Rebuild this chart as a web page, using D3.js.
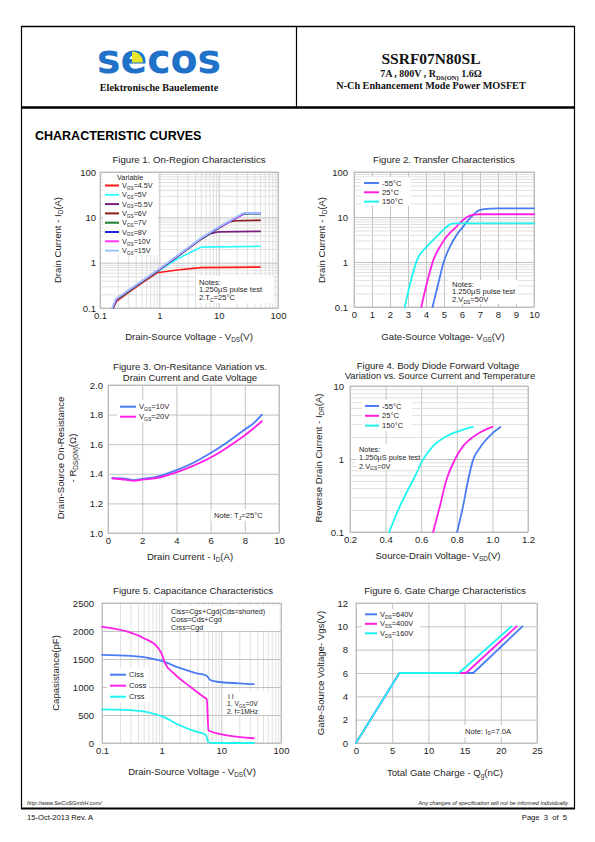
<!DOCTYPE html>
<html><head><meta charset="utf-8">
<script src="https://cdn.jsdelivr.net/npm/d3@7/dist/d3.min.js"></script>
<style>
html,body{margin:0;padding:0;background:#fff;}
svg{display:block;}
</style></head>
<body>
<svg id="page" width="595" height="842" xmlns="http://www.w3.org/2000/svg"></svg>
<script>
// ================= DATA =================
// Figure 1: On-Region Characteristics  [VDS (V), ID (A)]
const fig1Names = ["4.5V","5V","5.5V","6V","7V","8V","10V","15V"];
const fig1Vgs4_5 = [[0.165,0.1],[0.19,0.14],[0.3,0.22],[0.5,0.35],[0.92,0.6],[2,0.69],[5,0.78],[50,0.8]];
const fig1Vgs5   = [[0.165,0.1],[0.19,0.15],[0.5,0.37],[1,0.68],[2,1.2],[5,2.2],[50,2.3]];
const fig1Vgs5_5 = [[0.165,0.1],[0.19,0.15],[0.2,0.16],[1,0.7],[5,3.3],[7,4.3],[10,4.8],[50,4.9]];
const fig1Vgs6   = [[0.165,0.1],[0.19,0.15],[0.2,0.16],[1,0.7],[5,3.3],[10,5.8],[15,8.0],[20,8.4],[50,8.6]];
const fig1Vgs7   = [[0.165,0.1],[0.19,0.15],[0.2,0.16],[1,0.7],[5,3.3],[10,5.8],[25,11.6],[30,12.0],[50,12.0]];
const fig1Vgs8   = [[0.163,0.1],[0.19,0.155],[0.2,0.165],[1,0.71],[5,3.35],[10,5.9],[27,12.2],[50,12.2]];
const fig1Vgs10  = [[0.162,0.1],[0.19,0.157],[0.2,0.167],[1,0.72],[5,3.4],[10,6.0],[27,12.3],[50,12.3]];
const fig1Vgs15  = [[0.16,0.1],[0.185,0.16],[0.2,0.17],[1,0.73],[5,3.45],[10,6.1],[26,12.4],[50,12.4]];
const fig1XTicks = [0.1,1,10,100];
const fig1YTicks = [0.1,1,10,100];

// Figure 2: Transfer Characteristics [VGS (V), ID (A)]
const fig2Names = ["-55°C","25°C","150°C"];
const fig2Tm55  = [[4.36,0.1],[4.69,0.34],[4.96,0.93],[5.33,2.2],[5.7,4.0],[6.06,6.1],[6.43,9.3],[6.98,14.3],[7.6,15.4],[8,15.6],[10,15.6]];
const fig2T25   = [[3.74,0.1],[4.05,0.34],[4.41,1.1],[4.78,2.2],[5.15,3.7],[5.6,5.6],[6.06,8.6],[6.43,10.7],[6.7,11.3],[7,11.5],[10,11.5]];
const fig2T150  = [[2.82,0.1],[3.13,0.34],[3.5,1.1],[4.05,2.2],[4.6,3.7],[5.05,5.6],[5.4,7.0],[5.7,7.2],[10,7.2]];
const fig2XTicks = [0,1,2,3,4,5,6,7,8,9,10];
const fig2YTicks = [0.1,1,10,100];

// Figure 3: On-Resistance vs Drain Current [ID (A), RDS(on) (ohm)]
const fig3Names = ["10V","20V"];
const fig3Vgs10 = [[0.25,1.37],[1,1.368],[1.5,1.357],[2,1.365],[3,1.385],[4,1.425],[5,1.475],[6,1.54],[7,1.615],[8,1.70],[8.5,1.74],[9,1.80]];
const fig3Vgs20 = [[0.25,1.37],[1,1.36],[1.5,1.352],[2,1.36],[3,1.375],[4,1.41],[5,1.455],[6,1.51],[7,1.58],[8,1.66],[9,1.755]];
const fig3XTicks = [0,2,4,6,8,10];
const fig3YTicks = [1.0,1.2,1.4,1.6,1.8,2.0];

// Figure 4: Body Diode Forward Voltage [VSD (V), IDR (A)]
const fig4Names = ["-55°C","25°C","150°C"];
const fig4Tm55 = [[0.802,0.1],[0.835,0.225],[0.864,0.52],[0.892,0.98],[0.929,1.42],[0.966,1.85],[1.0,2.25],[1.045,2.75]];
const fig4T25  = [[0.667,0.1],[0.705,0.225],[0.742,0.52],[0.789,0.98],[0.835,1.5],[0.873,1.85],[0.93,2.3],[1.0,2.75]];
const fig4T150 = [[0.42,0.1],[0.48,0.225],[0.565,0.58],[0.61,0.98],[0.667,1.5],[0.742,2.05],[0.82,2.45],[0.89,2.75]];
const fig4XTicks = [0.2,0.4,0.6,0.8,1.0,1.2];
const fig4YTicks = [0.1,1,10];

// Figure 5: Capacitance [VDS (V), C (pF)]
const fig5Names = ["Ciss","Coss","Crss"];
const fig5Ciss = [[0.1,1575],[0.3,1555],[0.65,1513],[1,1465],[2,1340],[3.9,1244],[5.3,1214],[5.8,1190],[6.5,1124],[8.5,1094],[20,1065],[35,1050]];
const fig5Coss = [[0.1,2075],[0.26,1992],[0.5,1872],[0.88,1693],[1,1590],[1.14,1423],[1.6,1244],[3,1005],[5,825],[5.7,783],[6.1,227],[6.6,209],[12.4,138],[35,85]];
const fig5Crss = [[0.1,600],[0.3,586],[0.65,538],[1.07,466],[2,317],[3.9,197],[5.3,155],[5.7,108],[6.0,18],[7.4,0],[35,0]];
const fig5XTicks = [0.1,1,10,100];
const fig5YTicks = [0,500,1000,1500,2000,2500];

// Figure 6: Gate Charge [Qg (nC), VGS (V)]
const fig6Names = ["640V","400V","160V"];
const fig6V640 = [[0,0],[6,6],[16.2,6],[23,10]];
const fig6V400 = [[0,0],[6,6],[15.2,6],[22.2,10]];
const fig6V160 = [[0,0],[6,6],[14.2,6],[21.5,10]];
const fig6XTicks = [0,5,10,15,20,25];
const fig6YTicks = [0,2,4,6,8,10,12];

// ================= DRAWING =================
const SANS = '"Liberation Sans", Arial, Helvetica, sans-serif';
const SERIF = '"Liberation Serif", "Times New Roman", serif';
const MAJ = '#b4b4b4', MIN = '#d8d8d8';
const BLUE = '#4a7cf3', MAG = '#ff1fe6', CYAN = '#1ff4f0';
const svg = d3.select('#page');
svg.append('rect').attr('width',595).attr('height',842).attr('fill','#fff');

function rich(g, x, y, parts, opt){
  const t = g.append('text').attr('x',x).attr('y',y)
    .attr('font-size',opt.size).attr('text-anchor',opt.anchor||'start')
    .attr('fill',opt.fill||'#1e1e1e').attr('font-family',opt.family||SANS);
  if(opt.weight) t.attr('font-weight',opt.weight);
  if(opt.style) t.attr('font-style',opt.style);
  if(opt.rotate) t.attr('transform',`rotate(-90,${x},${y})`);
  let shifted = 0;
  parts.forEach(p=>{
    if(typeof p === 'string'){
      const s = t.append('tspan').text(p);
      if(shifted){ s.attr('dy',-shifted); shifted = 0; }
    } else {
      const d = opt.size*0.25;
      const s = t.append('tspan').text(p.sub).attr('font-size',opt.size*0.66);
      if(!shifted){ s.attr('dy',d); shifted = d; }
    }
  });
  return t;
}

function logGrid(lo, hi){
  const out = [];
  for(let e=Math.round(Math.log10(lo)); e<Math.round(Math.log10(hi)); e++){
    for(let k=1;k<10;k++) out.push(k*Math.pow(10,e));
  }
  out.push(hi);
  return out;
}
function isDecade(v){ const l=Math.log10(v); return Math.abs(l-Math.round(l))<1e-9; }

function panel(xs, ys, xGrid, yGrid, xMajor, yMajor, xTicks, xFmt, yTicks, yFmt, yPad){
  const g = svg.append('g');
  const [x0,x1] = xs.range(), [yb,yt] = ys.range();
  const h = yb-yt, w = x1-x0;
  const gx = g.append('g').attr('transform',`translate(0,${yb})`)
    .call(d3.axisBottom(xs).tickValues(xGrid).tickSize(-h).tickFormat(''));
  gx.select('.domain').remove();
  gx.selectAll('.tick line').attr('stroke',d=>xMajor(d)?MAJ:MIN).attr('stroke-width',0.8);
  const gy = g.append('g').attr('transform',`translate(${x0},0)`)
    .call(d3.axisLeft(ys).tickValues(yGrid).tickSize(-w).tickFormat(''));
  gy.select('.domain').remove();
  gy.selectAll('.tick line').attr('stroke',d=>yMajor(d)?MAJ:MIN).attr('stroke-width',0.8);
  g.append('rect').attr('x',x0).attr('y',yt).attr('width',w).attr('height',h)
    .attr('fill','none').attr('stroke',MAJ).attr('stroke-width',0.8);
  const lx = g.append('g').attr('transform',`translate(0,${yb})`)
    .call(d3.axisBottom(xs).tickValues(xTicks).tickFormat(xFmt).tickSize(0).tickPadding(4.5));
  lx.select('.domain').remove();
  lx.selectAll('text').attr('font-size',9.5).attr('font-family',SANS).attr('fill','#1e1e1e');
  const ly = g.append('g').attr('transform',`translate(${x0},0)`)
    .call(d3.axisLeft(ys).tickValues(yTicks).tickFormat(yFmt).tickSize(0).tickPadding(yPad));
  ly.select('.domain').remove();
  ly.selectAll('text').attr('font-size',9.5).attr('font-family',SANS).attr('fill','#1e1e1e');
  return g;
}

function drawLines(g, xs, ys, series, colors, curve, width){
  const line = d3.line().x(d=>xs(d[0])).y(d=>ys(d[1])).curve(curve||d3.curveLinear);
  series.forEach((s,i)=>{
    g.append('path').datum(s).attr('d',line).attr('fill','none')
      .attr('stroke',colors[i]).attr('stroke-width',width||1.7)
      .attr('stroke-linejoin','round').attr('stroke-linecap','round');
  });
}

function legend(g, x, y0, dy, names, colors, prefix, sub, size, lineLen){
  names.forEach((n,i)=>{
    const y = y0 + i*dy;
    g.append('line').attr('x1',x).attr('x2',x+lineLen).attr('y1',y).attr('y2',y)
      .attr('stroke',colors[i]).attr('stroke-width',2);
    const parts = prefix ? [prefix, {sub:sub}, '='+n] : [n];
    rich(g, x+lineLen+3, y+size*0.35, parts, {size:size});
  });
}

function whiteBox(g,x,y,w,h){ g.append('rect').attr('x',x).attr('y',y).attr('width',w).attr('height',h).attr('fill','#fff'); }

// ---------- Page frame & header ----------
const frame = svg.append('g');
frame.append('line').attr('x1',21).attr('x2',575).attr('y1',26.5).attr('y2',26.5).attr('stroke','#000').attr('stroke-width',1.5);
frame.append('line').attr('x1',21.5).attr('x2',21.5).attr('y1',26).attr('y2',809).attr('stroke','#000').attr('stroke-width',1.2);
frame.append('line').attr('x1',574.5).attr('x2',574.5).attr('y1',26).attr('y2',809).attr('stroke','#000').attr('stroke-width',1.2);
frame.append('line').attr('x1',296.5).attr('x2',296.5).attr('y1',26).attr('y2',107).attr('stroke','#000').attr('stroke-width',1.2);
frame.append('line').attr('x1',21).attr('x2',575).attr('y1',107.5).attr('y2',107.5).attr('stroke','#000').attr('stroke-width',2.5);
frame.append('line').attr('x1',21).attr('x2',575).attr('y1',808.5).attr('y2',808.5).attr('stroke','#000').attr('stroke-width',2);

// Logo
const logo = svg.append('g');
logo.append('text').attr('x',97).attr('y',73).attr('font-family','"DejaVu Sans", sans-serif')
  .attr('font-weight','bold').attr('font-size',40).attr('fill','#1f72c8')
  .attr('textLength',124).attr('lengthAdjust','spacingAndGlyphs').text('secos');
logo.append('path').attr('d','M132,62.5 L132,51.5 A11,11 0 0 1 143,62.5 Z').attr('fill','#e8e62a');
logo.append('text').attr('x',159).attr('y',91).attr('text-anchor','middle').attr('font-family',SERIF)
  .attr('font-weight','bold').attr('font-size',10.2).attr('fill','#111').text('Elektronische Bauelemente');

const hdr = svg.append('g');
hdr.append('text').attr('x',431).attr('y',64).attr('text-anchor','middle').attr('font-family',SERIF)
  .attr('font-weight','bold').attr('font-size',15.5).attr('fill','#111').text('SSRF07N80SL');
rich(hdr, 431, 77, ['7A , 800V , R',{sub:'DS(ON)'},' 1.6Ω'], {size:10, anchor:'middle', family:SERIF, weight:'bold', fill:'#111'});
hdr.append('text').attr('x',431).attr('y',89).attr('text-anchor','middle').attr('font-family',SERIF)
  .attr('font-weight','bold').attr('font-size',10.2).attr('fill','#111').text('N-Ch Enhancement Mode Power MOSFET');

svg.append('text').attr('x',35).attr('y',140).attr('font-family',SANS).attr('font-weight','bold')
  .attr('font-size',12.5).attr('fill','#000').text('CHARACTERISTIC CURVES');

// Footer
const ft = svg.append('g');
ft.append('text').attr('x',27).attr('y',805).attr('font-family',SANS).attr('font-style','italic')
  .attr('font-size',5.6).attr('fill','#222').text('http://www.SeCoSGmbH.com/');
ft.append('text').attr('x',569).attr('y',805).attr('text-anchor','end').attr('font-family',SANS).attr('font-style','italic')
  .attr('font-size',5.6).attr('fill','#222').text('Any changes of specification will not be informed individually.');
ft.append('text').attr('x',27).attr('y',820).attr('font-family',SANS)
  .attr('font-size',7.6).attr('fill','#111').text('15-Oct-2013 Rev. A');
ft.append('text').attr('x',567).attr('y',820).attr('text-anchor','end').attr('font-family',SANS)
  .attr('font-size',7.6).attr('fill','#111').attr('xml:space','preserve').text('Page  3  of  5');

const fmtG = d=>String(d);

// ---------- Figure 1 ----------
{
  const xs = d3.scaleLog().domain([0.1,100]).range([100,278]);
  const ys = d3.scaleLog().domain([0.1,100]).range([308,172]);
  const g = panel(xs, ys, logGrid(0.1,100), logGrid(0.1,100), isDecade, isDecade,
    fig1XTicks, fmtG, fig1YTicks, fmtG, 4);
  const colors = ['#ff1a1a','#33ffff','#78207c','#8a1c1c','#1f7f2f','#1a2ed8','#ff33ff','#9cc4ff'];
  drawLines(g, xs, ys, [fig1Vgs4_5,fig1Vgs5,fig1Vgs5_5,fig1Vgs6,fig1Vgs7,fig1Vgs8,fig1Vgs10,fig1Vgs15], colors, d3.curveLinear, 1.7);
  whiteBox(g,103,173,55,82);
  g.append('text').attr('x',117).attr('y',180).attr('font-size',7.3).attr('font-family',SANS).attr('fill','#1e1e1e').text('Variable');
  legend(g, 105, 185.5, 9.3, fig1Names, colors, 'V', 'GS', 7.2, 14);
  whiteBox(g,196,276,77,27);
  rich(g,199,284.5,['Notes:'],{size:7.6});
  rich(g,199,292.3,['1.250μS pulse test'],{size:7.6});
  rich(g,199,300,['2.T',{sub:'C'},'=25°C'],{size:7.6});
  rich(g,189,162.5,['Figure 1. On-Region Characteristics'],{size:9.6,anchor:'middle'});
  rich(g,189,339.5,['Drain-Source Voltage - V',{sub:'DS'},'(V)'],{size:9.6,anchor:'middle'});
  rich(g,61,240,['Drain Current - I',{sub:'D'},'(A)'],{size:9.6,anchor:'middle',rotate:true});
}

// ---------- Figure 2 ----------
{
  const xs = d3.scaleLinear().domain([0,10]).range([354,534]);
  const ys = d3.scaleLog().domain([0.1,100]).range([307,172]);
  const g = panel(xs, ys, fig2XTicks, logGrid(0.1,100), ()=>true, isDecade,
    fig2XTicks, fmtG, fig2YTicks, fmtG, 6);
  const colors = [BLUE, MAG, CYAN];
  drawLines(g, xs, ys, [fig2Tm55, fig2T25, fig2T150], colors, d3.curveMonotoneX, 1.8);
  whiteBox(g,361,177,50,29);
  legend(g, 364, 183, 9.3, fig2Names, colors, null, null, 7.6, 15);
  whiteBox(g,448,280,70,24);
  rich(g,452,286.8,['Notes:'],{size:7.6});
  rich(g,452,294.3,['1.250μS pulse test'],{size:7.6});
  rich(g,452,301.8,['2.V',{sub:'DS'},'=50V'],{size:7.6});
  rich(g,444,162.5,['Figure 2. Transfer Characteristics'],{size:9.6,anchor:'middle'});
  rich(g,443,340,['Gate-Source Voltage- V',{sub:'GS'},'(V)'],{size:9.6,anchor:'middle'});
  rich(g,324.5,240,['Drain Current - I',{sub:'D'},'(A)'],{size:9.6,anchor:'middle',rotate:true});
}

// ---------- Figure 3 ----------
{
  const xs = d3.scaleLinear().domain([0,10]).range([108,279]);
  const ys = d3.scaleLinear().domain([1.0,2.0]).range([533,385]);
  const g = panel(xs, ys, fig3XTicks, fig3YTicks, ()=>true, ()=>true,
    fig3XTicks, fmtG, fig3YTicks, d3.format('.1f'), 5);
  const colors = [BLUE, MAG];
  drawLines(g, xs, ys, [fig3Vgs10, fig3Vgs20], colors, d3.curveMonotoneX, 1.8);
  whiteBox(g,117,400,52,22);
  legend(g, 120, 406.7, 10, fig3Names, colors, 'V', 'GS', 7.6, 16);
  whiteBox(g,211,509,58,12);
  rich(g,214,518,['Note: T',{sub:'J'},'=25°C'],{size:7.6});
  rich(g,190,370,['Figure 3. On-Resitance Variation vs.'],{size:9.6,anchor:'middle'});
  rich(g,190,380.5,['Drain Current and Gate Voltage'],{size:9.6,anchor:'middle'});
  rich(g,190,559.5,['Drain Current - I',{sub:'D'},'(A)'],{size:9.6,anchor:'middle'});
  rich(g,63.5,458,['Drain-Source On-Resistance'],{size:9.6,anchor:'middle',rotate:true});
  rich(g,75.5,458,['- R',{sub:'DS(ON)'},'(Ω)'],{size:9.6,anchor:'middle',rotate:true});
}

// ---------- Figure 4 ----------
{
  const xs = d3.scaleLinear().domain([0.2,1.2]).range([350,528]);
  const ys = d3.scaleLog().domain([0.1,10]).range([532,386]);
  const g = panel(xs, ys, fig4XTicks, logGrid(0.1,10), ()=>true, isDecade,
    fig4XTicks, d3.format('.1f'), fig4YTicks, fmtG, 6);
  const colors = [BLUE, MAG, CYAN];
  drawLines(g, xs, ys, [fig4Tm55, fig4T25, fig4T150], colors, d3.curveMonotoneX, 1.8);
  whiteBox(g,362,400,50,31);
  legend(g, 365, 406, 9.8, fig4Names, colors, null, null, 7.6, 14);
  whiteBox(g,356,444,62,26);
  rich(g,359,452,['Notes:'],{size:7.4});
  rich(g,359,460.3,['1.250μS pulse test'],{size:7.4});
  rich(g,359,468.6,['2.V',{sub:'GS'},'=0V'],{size:7.4});
  rich(g,438,368.5,['Figure 4. Body Diode Forward Voltage'],{size:9.6,anchor:'middle'});
  rich(g,440,379,['Variation vs. Source Current and Temperature'],{size:9.4,anchor:'middle'});
  rich(g,438,559,['Source-Drain Voltage- V',{sub:'SD'},'(V)'],{size:9.6,anchor:'middle'});
  rich(g,322,458,['Reverse Drain Current - I',{sub:'DR'},'(A)'],{size:9.6,anchor:'middle',rotate:true});
}

// ---------- Figure 5 ----------
{
  const xs = d3.scaleLog().domain([0.1,100]).range([102,281]);
  const ys = d3.scaleLinear().domain([0,2500]).range([743,603]);
  const g = panel(xs, ys, logGrid(0.1,100), fig5YTicks, isDecade, ()=>true,
    fig5XTicks, fmtG, fig5YTicks, fmtG, 8);
  const colors = [BLUE, MAG, CYAN];
  drawLines(g, xs, ys, [fig5Ciss, fig5Coss, fig5Crss], colors, d3.curveMonotoneX, 1.8);
  whiteBox(g,107,668,42,34);
  legend(g, 110, 674.7, 11, fig5Names, colors, null, null, 7.6, 16);
  whiteBox(g,168,606,111,25);
  rich(g,171,613.5,['Ciss=Cgs+Cgd(Cds=shorted)'],{size:7.2});
  rich(g,171,621.5,['Coss=Cds+Cgd'],{size:7.2});
  rich(g,171,629.5,['Crss=Cgd'],{size:7.2});
  whiteBox(g,224,691,46,24);
  rich(g,228,698.5,['I  I'],{size:6.8});
  rich(g,227,706.3,['1. V',{sub:'GS'},'=0V'],{size:6.8});
  rich(g,227,714.2,['2. f=1MHz'],{size:6.8});
  rich(g,193,594,['Figure 5. Capacitance Characteristics'],{size:9.6,anchor:'middle'});
  rich(g,192,774.5,['Drain-Source Voltage - V',{sub:'DS'},'(V)'],{size:9.6,anchor:'middle'});
  rich(g,58.5,673,['Capasistance(pF)'],{size:9.6,anchor:'middle',rotate:true});
}

// ---------- Figure 6 ----------
{
  const xs = d3.scaleLinear().domain([0,25]).range([356,537]);
  const ys = d3.scaleLinear().domain([0,12]).range([743,603]);
  const g = panel(xs, ys, fig6XTicks, fig6YTicks, ()=>true, ()=>true,
    fig6XTicks, fmtG, fig6YTicks, fmtG, 8);
  const colors = [BLUE, MAG, CYAN];
  drawLines(g, xs, ys, [fig6V640, fig6V400, fig6V160], colors, d3.curveLinear, 1.8);
  whiteBox(g,362,609,58,30);
  legend(g, 365, 614.3, 9.5, fig6Names, colors, 'V', 'DS', 7.4, 12);
  whiteBox(g,462,725,53,12);
  rich(g,465,733.5,['Note: I',{sub:'D'},'=7.0A'],{size:7.6});
  rich(g,445,594,['Figure 6. Gate Charge Characteristics'],{size:9.6,anchor:'middle'});
  rich(g,445,776,['Total Gate Charge - Q',{sub:'g'},'(nC)'],{size:9.6,anchor:'middle'});
  rich(g,324,673,['Gate-Source Voltage- Vgs(V)'],{size:9.6,anchor:'middle',rotate:true});
}
</script>
</body></html>
